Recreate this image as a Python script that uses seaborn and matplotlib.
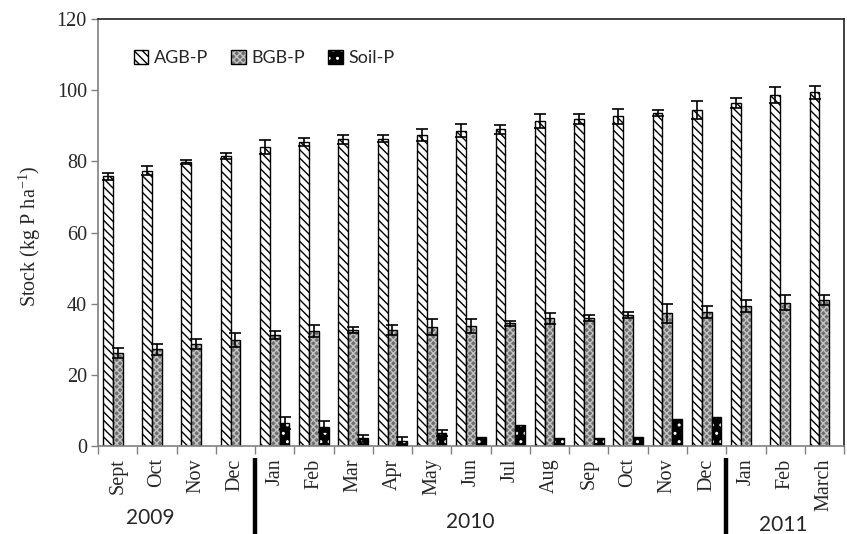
import numpy as np
import pandas as pd
import matplotlib
matplotlib.use("Agg")
import matplotlib.pyplot as plt
import matplotlib.patches as mpatches
import seaborn as sns

months = ["Sept", "Oct", "Nov", "Dec", "Jan", "Feb", "Mar", "Apr", "May", "Jun",
          "Jul", "Aug", "Sep", "Oct", "Nov", "Dec", "Jan", "Feb", "March"]
years = [2009] * 4 + [2010] * 12 + [2011] * 3

agb = [75.8, 77.4, 79.9, 81.5, 84.1, 85.4, 86.2, 86.4, 87.4, 88.6,
       89.0, 91.4, 91.9, 92.7, 93.6, 94.4, 96.4, 98.6, 99.4]
agb_err = [1.0, 1.3, 0.6, 0.9, 1.9, 1.2, 1.2, 1.1, 1.7, 1.8,
           1.3, 1.9, 1.4, 2.1, 0.8, 2.5, 1.4, 2.2, 1.8]
bgb = [26.2, 27.2, 28.7, 29.8, 31.2, 32.3, 32.6, 32.6, 33.5, 33.8,
       34.5, 35.9, 35.9, 36.8, 37.3, 37.7, 39.3, 40.3, 41.0]
bgb_err = [1.4, 1.6, 1.5, 2.0, 1.1, 1.7, 0.9, 1.4, 2.3, 2.0,
           0.7, 1.6, 0.9, 0.9, 2.6, 1.6, 1.7, 2.1, 1.4]
soil = [0, 0, 0, 0, 6.5, 5.4, 2.2, 1.5, 3.6, 2.6,
        5.9, 2.2, 2.2, 2.6, 7.7, 8.2, 0, 0, 0]
soil_err = [0, 0, 0, 0, 1.7, 1.5, 1.0, 1.1, 0.9, 0,
            0, 0, 0, 0, 0, 0, 0, 0, 0]

series = ["AGB-P", "BGB-P", "Soil-P"]
year_labels = ["2009", "2010", "2011"]

keys = [f"{m} {y} #{i}" for i, (m, y) in enumerate(zip(months, years))]
df = pd.concat([
    pd.DataFrame({"key": keys, "value": agb, "err": agb_err, "series": series[0]}),
    pd.DataFrame({"key": keys, "value": bgb, "err": bgb_err, "series": series[1]}),
    pd.DataFrame({"key": keys, "value": soil, "err": soil_err, "series": series[2]}),
], ignore_index=True)

sns.set_theme(style="ticks")
plt.rcParams["font.family"] = ["Liberation Serif", "DejaVu Serif"]
plt.rcParams["mathtext.fontset"] = "custom"
plt.rcParams["mathtext.rm"] = "Liberation Serif"
plt.rcParams["mathtext.it"] = "Liberation Serif"
plt.rcParams["mathtext.default"] = "rm"
plt.rcParams["hatch.linewidth"] = 1.0

fig = plt.figure(figsize=(8.47, 5.34), dpi=100)
ax = fig.add_axes([0.1157, 0.1648, 0.8808, 0.7996])

sns.barplot(data=df, x="key", y="value", hue="series", order=keys,
            hue_order=series, width=0.75, errorbar=None, legend=False,
            ax=ax, edgecolor="black", linewidth=1.0)

styles = {
    "AGB-P": dict(face="white", hatch="\\\\\\\\", hcolor="black"),
    "BGB-P": dict(face="#6f6f6f", hatch="xxxxx", hcolor="#c4c4c4"),
    "Soil-P": dict(face="black", hatch="..", hcolor="white"),
}
err_map = {"AGB-P": (agb, agb_err), "BGB-P": (bgb, bgb_err), "Soil-P": (soil, soil_err)}

for cont, name in zip(ax.containers, series):
    st = styles[name]
    vals, errs = err_map[name]
    xs, ys, es = [], [], []
    for p in cont.patches:
        p.set_facecolor(st["face"])
        p.set_edgecolor("black")
        p.set_hatch(st["hatch"])
        p._hatch_color = matplotlib.colors.to_rgba(st["hcolor"])
        cx = p.get_x() + p.get_width() / 2
        idx = int(round(cx))
        if p.get_height() <= 0:
            p.set_visible(False)
            continue
        if errs[idx] > 0:
            xs.append(cx); ys.append(vals[idx]); es.append(errs[idx])
    if xs:
        ax.errorbar(xs, ys, yerr=es, fmt="none", ecolor="black",
                    elinewidth=1.2, capsize=4, capthick=1.2, zorder=5)

ax.set_ylim(0, 120)
ax.set_xlim(-0.5, len(keys) - 0.5)
ax.set_yticks(np.arange(0, 121, 20))
ax.tick_params(axis="y", labelsize=14.5, length=5, width=1, color="#808080", pad=3)
ax.set_xticks(range(len(keys)))
ax.set_xticklabels(months, rotation=90, fontsize=14.5)
ax.tick_params(axis="x", which="major", length=0, pad=9)
ax.set_xticks(np.arange(-0.5, len(keys), 1.0), minor=True)
ax.tick_params(axis="x", which="minor", length=6, width=1, color="#808080")
ax.set_xlabel("")
ax.set_ylabel("Stock (kg P ha$^{-1}$)", fontsize=14.5)
ax.yaxis.set_label_coords(-0.074, 0.49)

for side in ["left", "bottom"]:
    ax.spines[side].set_color("#808080")
    ax.spines[side].set_linewidth(1.2)
for side in ["top", "right"]:
    ax.spines[side].set_visible(True)
    ax.spines[side].set_color("#202020")
    ax.spines[side].set_linewidth(1.2)

# year separators and labels
for xb in [3.5, 15.5]:
    ax.plot([xb, xb], [-0.028, -0.22], transform=ax.get_xaxis_transform(),
            color="black", lw=3.2, clip_on=False, solid_capstyle="butt")
for lab, xc, yc in zip(year_labels, [0.82, 8.97, 16.96], [-0.169, -0.178, -0.184]):
    ax.text(xc, yc, lab, transform=ax.get_xaxis_transform(), ha="center",
            va="center", fontsize=15, family=["Lato", "DejaVu Sans"])

handles = []
for name in series:
    st = styles[name]
    h = mpatches.Patch(facecolor=st["face"], edgecolor="black", hatch=st["hatch"],
                       label=name)
    h._hatch_color = matplotlib.colors.to_rgba(st["hcolor"])
    handles.append(h)
leg = ax.legend(handles=handles, loc="upper left", bbox_to_anchor=(0.026, 0.965),
                ncol=3, frameon=False, handlelength=0.8, handleheight=0.8,
                handletextpad=0.3, columnspacing=1.3,
                prop={"family": ["Lato", "DejaVu Sans"], "size": 13})

fig.savefig("out.png", dpi=100)
